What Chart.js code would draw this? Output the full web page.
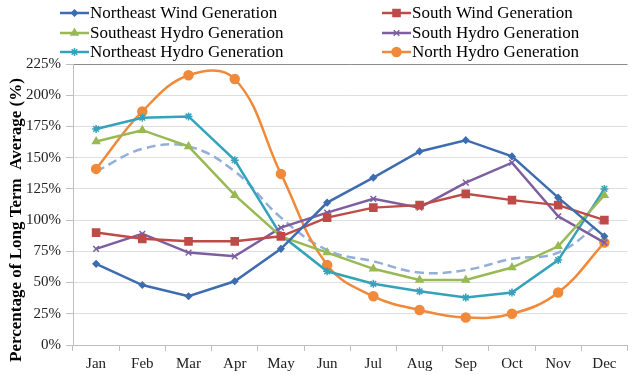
<!DOCTYPE html>
<html>
<head>
<meta charset="utf-8">
<script src="https://cdn.jsdelivr.net/npm/chart.js@4.4.1/dist/chart.umd.min.js"></script>
<style>
    html, body { margin: 0; padding: 0; background: #fff; }
    #wrap { width: 634px; height: 375px; position: relative; }
</style>
</head>
<body>
<div id="wrap"><canvas id="grafico" width="634" height="375"></canvas></div>
<script>
const meses = ['Jan', 'Feb', 'Mar', 'Apr', 'May', 'Jun', 'Jul', 'Aug', 'Sep', 'Oct', 'Nov', 'Dec'];
const yTicks = [0, 25, 50, 75, 100, 125, 150, 175, 200, 225];

const neWind = [65, 48, 39, 51, 77, 114, 134, 155, 164, 151, 118, 87];
const sWind = [90, 85, 83, 83, 87, 102, 110, 112, 121, 116, 112, 100];
const seHydro = [163, 172, 159, 120, 87, 74, 61, 52, 52, 62, 79, 120];
const sHydro = [77, 89, 74, 71, 94, 106, 117, 110, 130, 146, 103, 82];
const neHydro = [173, 182, 183, 148, 88, 59, 49, 43, 38, 42, 68, 125];
const nHydro = [141, 187, 216, 213, 137, 64, 39, 28, 22, 25, 42, 82];
const media = [139, 157, 159, 139, 102, 76, 67, 58, 60, 69, 74, 101];

const fonte = 'Liberation Serif, Times New Roman, serif';

function serie(label, data, cor, estilo, raio, extra) {
    return Object.assign({
        label: label,
        data: data,
        borderColor: cor,
        backgroundColor: cor,
        borderWidth: 2.5,
        pointStyle: estilo,
        pointRadius: raio,
        pointBorderWidth: 1.5,
        pointHoverRadius: raio,
        tension: 0
    }, extra || {});
}

const datasets = [
    serie('Northeast Wind Generation', neWind, '#3D6DB0', 'rectRot', 3),
    serie('South Wind Generation', sWind, '#BE4B48', 'rect', 5),
    serie('Southeast Hydro Generation', seHydro, '#98B954', 'triangle', 4),
    serie('South Hydro Generation', sHydro, '#7D5FA0', 'crossRot', 4),
    serie('Northeast Hydro Generation', neHydro, '#35A2BC', 'star', 4),
    serie('North Hydro Generation', nHydro, '#F08A3A', 'circle', 4.5, { tension: 0.4 }),
    serie('', media, '#93AFD9', false, 0, { borderDash: [9, 5], tension: 0.4 })
];

// legenda em duas colunas + titulo do eixo y
const legendaPlugin = {
    id: 'legendaDuasColunas',
    afterDraw(chart) {
        const ctx = chart.ctx;
        const colX = [60, 382];
        const linhaY = [13, 33, 52];
        ctx.save();
        for (let i = 0; i < 6; i++) {
            const ds = chart.data.datasets[i];
            const x0 = colX[i % 2];
            const y = linhaY[Math.floor(i / 2)];
            ctx.strokeStyle = ds.borderColor;
            ctx.lineWidth = 2.5;
            ctx.beginPath();
            ctx.moveTo(x0, y);
            ctx.lineTo(x0 + 29, y);
            ctx.stroke();
            ctx.fillStyle = ds.borderColor;
            ctx.lineWidth = 1.5;
            Chart.helpers.drawPoint(ctx, { pointStyle: ds.pointStyle, radius: ds.pointRadius, borderWidth: 1.5 }, x0 + 14.5, y);
            ctx.fillStyle = '#000';
            ctx.font = '17px ' + fonte;
            ctx.textBaseline = 'middle';
            ctx.textAlign = 'left';
            ctx.fillText(ds.label, x0 + 30, y + 1);
        }
        ctx.translate(17, 220);
        ctx.rotate(-Math.PI / 2);
        ctx.font = 'bold 17px ' + fonte;
        ctx.textAlign = 'center';
        ctx.textBaseline = 'middle';
        ctx.fillStyle = '#000';
        ctx.fillText('Percentage of Long Term  Average (%)', 0, 0);
        ctx.restore();
    }
};

const graficoLinhas = document.getElementById('grafico');
new Chart(graficoLinhas, {
    type: 'line',
    data: {
        labels: meses,
        datasets: datasets
    },
    options: {
        responsive: false,
        animation: false,
        layout: {
            padding: { top: 64, right: 3, left: 0, bottom: 0 }
        },
        scales: {
            y: {
                min: 0,
                max: 225,
                afterBuildTicks: (scale) => {
                    scale.ticks = yTicks.map(v => ({ value: v }));
                },
                afterFit: (scale) => {
                    scale.width = 73;
                },
                border: { color: '#bfbfbf', width: 1 },
                grid: {
                    color: (c) => c.tick && c.tick.value == 225 ? '#8c8c8c' : '#dedede',
                    tickLength: 7,
                    tickColor: '#bfbfbf'
                },
                ticks: {
                    color: '#222',
                    padding: 5,
                    font: { family: fonte, size: 15 },
                    callback: (v) => v + '%'
                }
            },
            x: {
                offset: true,
                afterFit: (scale) => {
                    scale.height = 30;
                },
                border: { color: '#bfbfbf', width: 1 },
                grid: {
                    offset: true,
                    drawOnChartArea: false,
                    tickLength: 6,
                    color: '#bfbfbf'
                },
                ticks: {
                    color: '#222',
                    padding: 4,
                    font: { family: fonte, size: 15 }
                }
            }
        },
        plugins: {
            legend: { display: false },
            tooltip: { enabled: false }
        }
    },
    plugins: [legendaPlugin]
});
</script>
</body>
</html>
